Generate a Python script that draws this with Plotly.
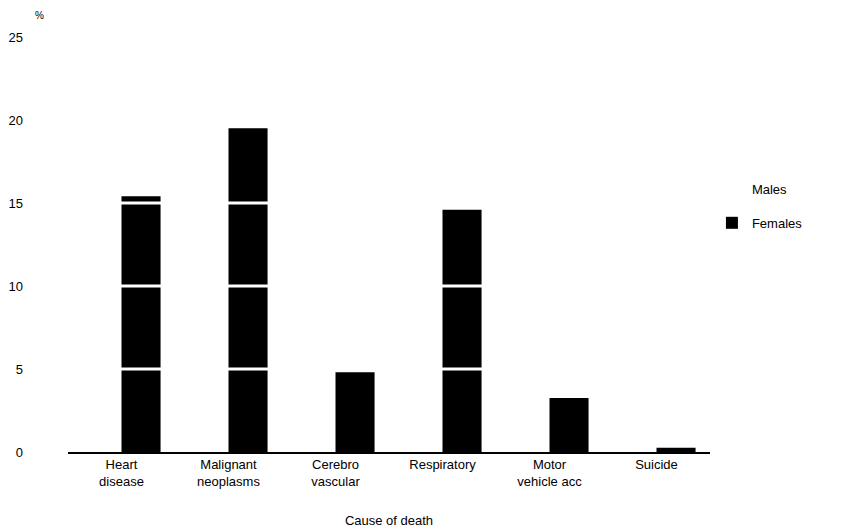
import plotly.graph_objects as go

categories = ["Heart<br>disease", "Malignant<br>neoplasms", "Cerebro<br>vascular",
              "Respiratory", "Motor<br>vehicle acc", "Suicide"]
males = [18.3, 14.4, 3.8, 10.6, 6.9, 0.4]
females = [15.4, 19.5, 4.8, 14.6, 3.25, 0.25]
y_ticks = [0, 5, 10, 15, 20, 25]
grid_levels = [5, 10, 15, 20]

FONT = "Liberation Sans, Arial, sans-serif"

fig = go.Figure()
fig.add_trace(go.Bar(name="Males", x=categories, y=males,
                     marker=dict(color="white", line=dict(width=0)),
                     legendgroup="m"))
fig.add_trace(go.Bar(name="Females", x=categories, y=females,
                     marker=dict(color="black", line=dict(width=0)),
                     legendgroup="f"))

for g in grid_levels:
    fig.add_shape(type="line", xref="paper", yref="y", x0=0, x1=1, y0=g, y1=g,
                  line=dict(color="white", width=3), layer="above")

fig.add_annotation(text="%", xref="paper", yref="paper", x=-0.045, y=1.069,
                   showarrow=False, font=dict(family=FONT, size=10, color="black"),
                   xanchor="center", yanchor="top")

fig.update_layout(
    width=851, height=531,
    margin=dict(l=60, r=149, t=29, b=87),
    paper_bgcolor="white", plot_bgcolor="white",
    barmode="group", bargap=0.27, bargroupgap=0.0,
    font=dict(family=FONT, size=13, color="black"),
    legend=dict(x=1.003, y=0.67, xanchor="left", yanchor="top",
                traceorder="grouped", tracegroupgap=14,
                font=dict(family=FONT, size=13, color="black")),
    showlegend=True,
)
fig.update_xaxes(showgrid=False, showline=True, linecolor="black", linewidth=1.5,
                 ticks="", automargin=False,
                 title=dict(text="Cause of death", standoff=28,
                            font=dict(family=FONT, size=13)),
                 tickfont=dict(family=FONT, size=13))
fig.update_yaxes(range=[0, 25], tickvals=y_ticks, showgrid=False, zeroline=False,
                 showline=False, ticks="", ticklabelstandoff=44, automargin=False,
                 tickfont=dict(family=FONT, size=13))

fig.write_html("out.html")
